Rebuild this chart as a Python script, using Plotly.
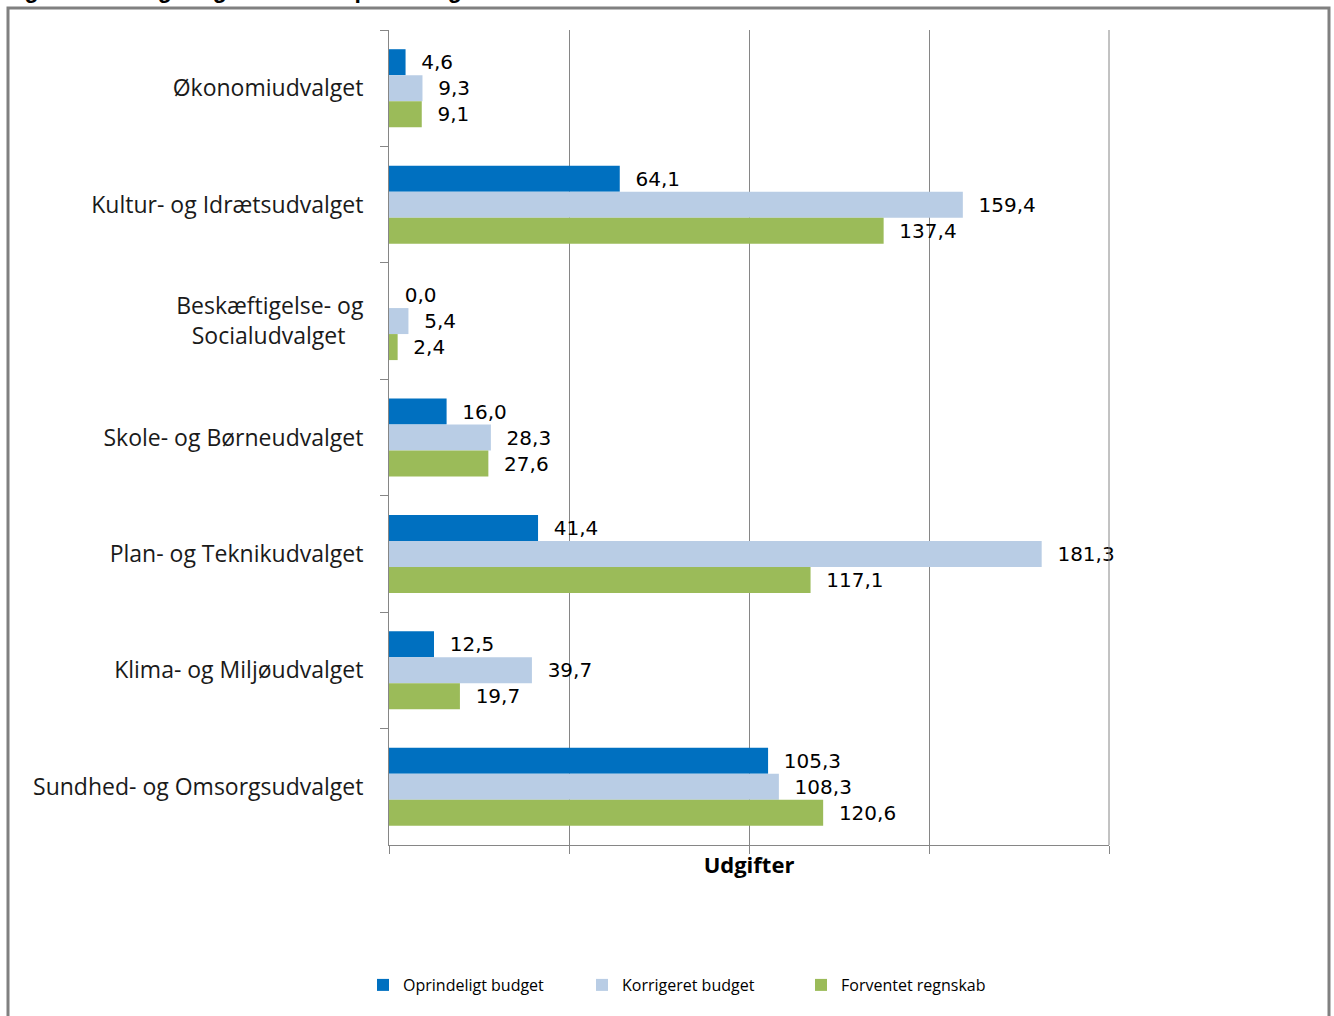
import plotly.graph_objects as go

categories = ["Økonomiudvalget", "Kultur- og Idrætsudvalget",
              "Beskæftigelse- og<br>Socialudvalget\u00a0\u00a0\u00a0", "Skole- og Børneudvalget",
              "Plan- og Teknikudvalget", "Klima- og Miljøudvalget",
              "Sundhed- og Omsorgsudvalget"]
oprindeligt = [4.6, 64.1, 0.0, 16.0, 41.4, 12.5, 105.3]
korrigeret = [9.3, 159.4, 5.4, 28.3, 181.3, 39.7, 108.3]
forventet = [9.1, 137.4, 2.4, 27.6, 117.1, 19.7, 120.6]
series_names = ["Oprindeligt budget", "Korrigeret budget", "Forventet regnskab"]
colors = ["#0070C0", "#B9CDE5", "#9BBB59"]

W, H = 1334, 1016
L, R, T, B = 389, 1109, 30, 845
pw, ph = R - L, B - T

fig = go.Figure()
for name, vals, col in zip(series_names, [oprindeligt, korrigeret, forventet], colors):
    fig.add_trace(go.Bar(
        y=categories, x=vals, name=name, orientation="h",
        marker=dict(color=col, line=dict(width=0)),
        texttemplate="  %{x:.1f}", textposition="outside",
        textfont=dict(family="DejaVu Sans", size=20, color="#000000"),
        cliponaxis=False,
    ))

def px_x(p):
    return (p - L) / pw

def px_y(p):
    return (B - p) / ph

fig.update_layout(
    width=W, height=H,
    margin=dict(l=L, r=W - R, t=T, b=H - B, pad=0),
    paper_bgcolor="white", plot_bgcolor="white",
    barmode="group", bargap=0.33, bargroupgap=0,
    separators=",.",
    showlegend=True,
    legend=dict(orientation="h", x=px_x(363), xanchor="left", y=px_y(985), yanchor="middle",
                font=dict(family="Open Sans", size=16, color="#000000"),
                entrywidth=174, entrywidthmode="pixels", itemwidth=30,
                bgcolor="rgba(0,0,0,0)"),
    xaxis=dict(range=[0, 200], dtick=50, showticklabels=False,
               showgrid=True, gridcolor="#868686", gridwidth=1,
               showline=True, linecolor="#868686", linewidth=1,
               ticks="outside", ticklen=8, tickcolor="#868686",
               zeroline=False, mirror=False,
               title=dict(text="<b>Udgifter</b>", font=dict(family="Open Sans", size=22, color="#000000"),
                          standoff=4)),
    yaxis=dict(autorange="reversed", showline=True, linecolor="#868686", linewidth=1,
               ticks="outside", ticklen=8, tickcolor="#868686", tickson="boundaries",
               tickfont=dict(family="Open Sans", size=23, color="#1a1a1a"),
               ticklabelstandoff=20, showgrid=False),
    shapes=[
        dict(type="rect", xref="paper", yref="paper",
             x0=px_x(8), x1=px_x(1329), y0=px_y(1030), y1=px_y(8),
             line=dict(color="#808080", width=3), fillcolor="rgba(0,0,0,0)", layer="below"),
        dict(type="line", xref="paper", yref="paper",
             x0=1, x1=1, y0=0, y1=1, line=dict(color="#868686", width=1)),
    ],
    annotations=[
        dict(text="<b>Figur 5 - Anlægsudgifter fordelt på udvalg</b>", xref="paper", yref="paper",
             x=px_x(2), y=px_y(5), xanchor="left", yanchor="bottom", showarrow=False,
             font=dict(family="Liberation Sans", size=23, color="#000000")),
    ],
)

fig.write_html("out.html", config={"displayModeBar": False},
               post_script="document.body.style.margin='0';document.body.style.padding='0';document.body.style.overflow='hidden';")
